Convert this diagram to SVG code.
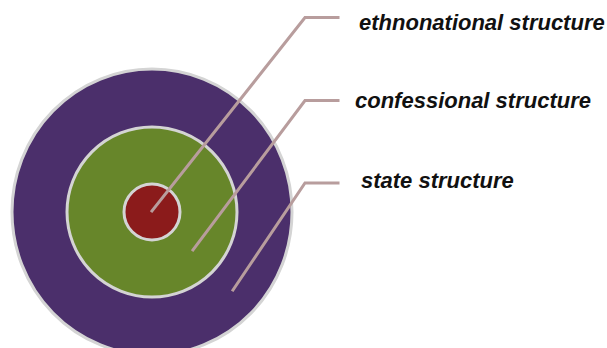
<svg xmlns="http://www.w3.org/2000/svg" width="607" height="348" viewBox="0 0 607 348">
  <style>
    .ring { stroke: #d4d4d4; stroke-width: 3; }
    .leader { fill: none; stroke: #b89d9d; stroke-width: 3; stroke-linecap: square; stroke-linejoin: miter; }
    .label { font-family: "Liberation Sans", Arial, sans-serif; font-size: 22px; font-weight: bold; font-style: italic; fill: #111111; }
  </style>
  <rect width="607" height="348" fill="#ffffff"/>

  <!-- concentric rings, outermost first -->
  <g id="state">
    <ellipse class="ring" cx="152" cy="212" rx="140" ry="143" fill="#4b2f6b"/>
  </g>
  <g id="confessional">
    <circle class="ring" cx="152" cy="212" r="85" fill="#67862a"/>
  </g>
  <g id="ethnonational">
    <circle class="ring" cx="152" cy="212" r="28" fill="#8b1b1b"/>
  </g>

  <!-- leader lines from each ring to its label -->
  <g id="connectors">
    <polyline class="leader" points="152,211 305,17.5 338,17.5"/>
    <polyline class="leader" points="193,250 305,100.5 338,100.5"/>
    <polyline class="leader" points="233,290 305,183 338,183"/>
  </g>

  <g id="labels">
    <text class="label" x="359" y="30">ethnonational structure</text>
    <text class="label" x="355" y="108">confessional structure</text>
    <text class="label" x="361" y="188">state structure</text>
  </g>
</svg>
